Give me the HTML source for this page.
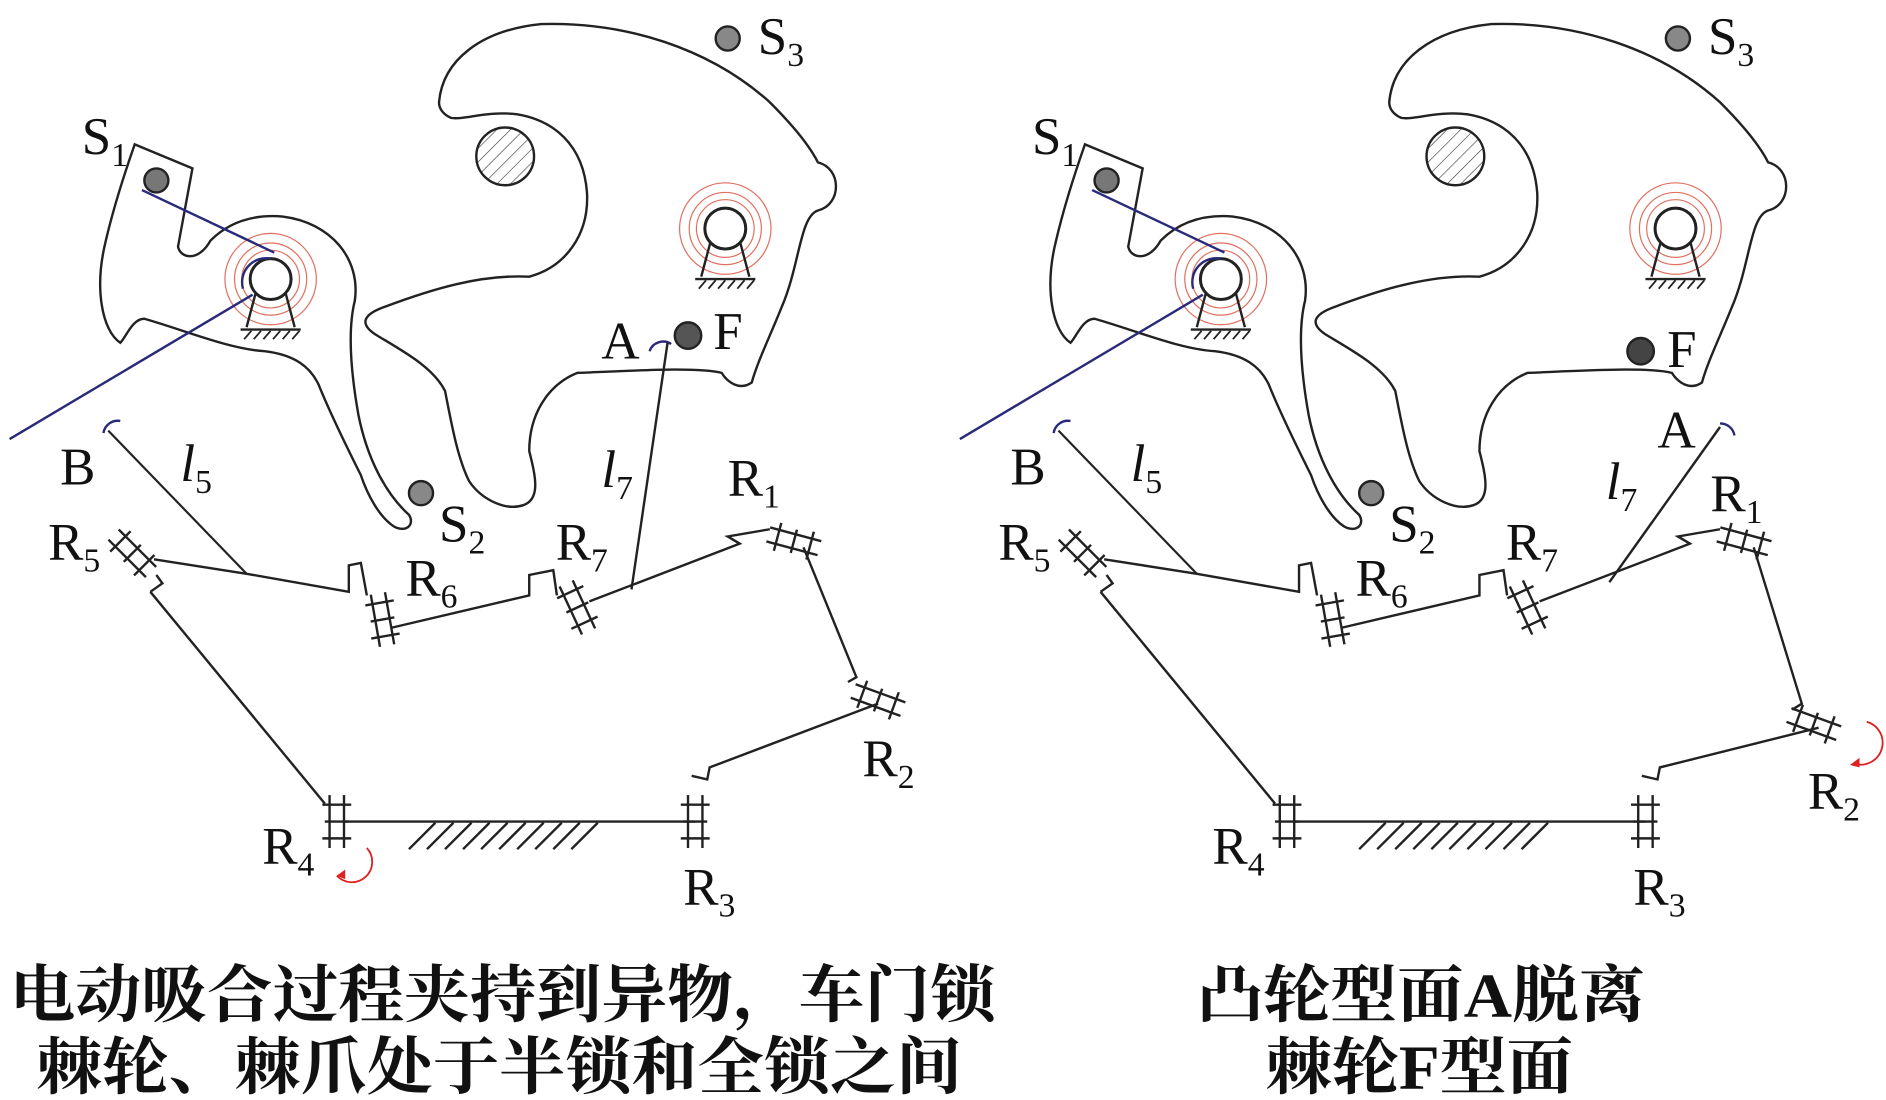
<!DOCTYPE html>
<html><head><meta charset="utf-8"><style>
html,body{margin:0;padding:0;background:#fff;width:1886px;height:1100px;overflow:hidden}
svg{display:block}
text{font-family:"Liberation Serif","Noto Serif CJK SC",serif;fill:#111}
.cn{font-family:"Liberation Serif","Noto Serif CJK SC","Noto Sans CJK SC",serif;font-weight:bold;font-size:52px}
</style></head><body>
<svg width="1886" height="1100" viewBox="0 0 1568 914.5" preserveAspectRatio="none" xmlns="http://www.w3.org/2000/svg">
<defs>
<pattern id="h" width="8" height="8" patternUnits="userSpaceOnUse" patternTransform="rotate(45)"><line x1="0" y1="0" x2="0" y2="8" stroke="#333" stroke-width="1"/></pattern>
<g id="base" fill="none" stroke="#222" stroke-width="2">
 <path d="M100,285 C85,275 78,240 88,200 C95,170 105,140 112,120 L160,140 L148,205 C150,215 165,218 175,200 C190,185 210,178 235,180 C275,185 300,215 295,250 C290,270 290,300 298,345 C305,380 320,410 340,428 C345,436 338,443 328,438 C315,430 305,410 300,395 C290,375 275,345 265,320 C258,305 245,295 220,292 C190,290 155,275 120,265 C110,265 105,280 100,285 Z"/>
 <path d="M365,85 C368,50 400,25 450,20 C520,18 590,40 640,85 C665,110 675,125 680,135 C700,140 700,170 680,175 C665,180 665,220 650,255 C640,280 630,300 625,318 C615,325 605,318 600,310 C580,305 530,308 480,310 C455,320 440,345 440,375 C445,395 450,415 435,420 C420,425 400,415 390,400 C380,380 375,350 370,325 C360,305 335,292 312,278 C300,270 300,262 320,255 C360,240 400,228 440,230 C470,222 490,195 488,160 C485,120 460,100 430,95 C405,92 385,100 375,98 C368,95 365,90 365,85 Z"/>
 <circle cx="420" cy="130" r="24" fill="url(#h)"/>
 <polyline points="128,465 205,477 290,492 290,470 300,468 305,495"/>
 <polyline points="325,522 440,495 440,478 460,474 463,495"/>
 <polyline points="490,500 615,452 605,446 640,440"/>
 <line x1="285" y1="683" x2="578" y2="683"/>
 <line x1="270" y1="668" x2="125" y2="492"/>
 <polyline points="125,492 135,485 130,478"/>
 <line x1="90" y1="358" x2="205" y2="477" stroke-width="1.8"/>
</g>
<g id="hatch" stroke="#222" stroke-width="2">
 <line x1="340" y1="706" x2="362" y2="684"/><line x1="355" y1="706" x2="377" y2="684"/><line x1="370" y1="706" x2="392" y2="684"/><line x1="385" y1="706" x2="407" y2="684"/><line x1="400" y1="706" x2="422" y2="684"/><line x1="415" y1="706" x2="437" y2="684"/><line x1="430" y1="706" x2="452" y2="684"/><line x1="445" y1="706" x2="467" y2="684"/><line x1="460" y1="706" x2="482" y2="684"/><line x1="475" y1="706" x2="497" y2="684"/>
</g>
<g id="bear" stroke="#222" stroke-width="2" fill="none">
 <line x1="-6" y1="-22" x2="-6" y2="22"/><line x1="6" y1="-22" x2="6" y2="22"/><line x1="-12" y1="-14" x2="12" y2="-14"/><line x1="-12" y1="14" x2="12" y2="14"/><line x1="-10" y1="0" x2="10" y2="0"/>
</g>
<g id="piv">
 <circle r="38" fill="none" stroke="#e07060" stroke-width="1"/><circle r="30" fill="none" stroke="#e07060" stroke-width="1"/><circle r="24" fill="none" stroke="#e07060" stroke-width="1"/>
 <path d="M-12,10 L-20,40 M12,10 L20,40" stroke="#222" stroke-width="2" fill="none"/>
 <line x1="-25" y1="42" x2="25" y2="42" stroke="#222" stroke-width="2"/>
 <path d="M-22,50 L-16,43 M-14,50 L-8,43 M-6,50 L0,43 M2,50 L8,43 M10,50 L16,43 M18,50 L24,43" stroke="#222" stroke-width="1.5"/>
 <circle r="17" fill="#fff" stroke="#222" stroke-width="2.5"/>
</g>
<g id="all">
 <use href="#base"/><use href="#hatch"/>
 <use href="#bear" transform="translate(110,460) rotate(-45)"/>
 <use href="#bear" transform="translate(318,515) rotate(-10)"/>
 <use href="#bear" transform="translate(480,505) rotate(-25)"/>
 <use href="#bear" transform="translate(660,450) rotate(-75)"/>
 <use href="#bear" transform="translate(280,683)"/>
 <use href="#bear" transform="translate(578,683)"/>
 <use href="#piv" transform="translate(225,232)"/>
 <use href="#piv" transform="translate(603,190)"/>
 <line x1="118" y1="158" x2="228" y2="210" stroke="#2a2a7a" stroke-width="2"/>
 <line x1="8" y1="365" x2="210" y2="245" stroke="#2a2a7a" stroke-width="2"/>
 <path d="M202,240 A20,20 0 0 1 225,215" stroke="#2a2a7a" stroke-width="2" fill="none"/>
 <path d="M86,360 A12,12 0 0 1 100,350" stroke="#2a2a7a" stroke-width="2" fill="none"/>
 <circle cx="130" cy="150" r="10" fill="#777" stroke="#222" stroke-width="2"/>
 <circle cx="605" cy="32" r="10" fill="#888" stroke="#222" stroke-width="2"/>
 <circle cx="350" cy="410" r="10" fill="#888" stroke="#222" stroke-width="2"/>
 <text x="68" y="128" font-size="44">S<tspan font-size="28" dy="10">1</tspan></text>
 <text x="630" y="45" font-size="44">S<tspan font-size="28" dy="10">3</tspan></text>
 <text x="365" y="450" font-size="44">S<tspan font-size="28" dy="10">2</tspan></text>
 <text x="50" y="403" font-size="44">B</text>
 <text x="150" y="400" font-size="44" font-style="italic">l<tspan font-size="28" dy="10" font-style="normal">5</tspan></text>
 <text x="40" y="465" font-size="44">R<tspan font-size="28" dy="10">5</tspan></text>
 <text x="337" y="495" font-size="44">R<tspan font-size="28" dy="10">6</tspan></text>
 <text x="462" y="465" font-size="44">R<tspan font-size="28" dy="10">7</tspan></text>
 <text x="218" y="718" font-size="44">R<tspan font-size="28" dy="10">4</tspan></text>
 <text x="568" y="752" font-size="44">R<tspan font-size="28" dy="10">3</tspan></text>
</g>
</defs>

<!-- Left -->
<use href="#all"/>
<g fill="none" stroke="#222" stroke-width="2">
 <polyline points="668,455 712,563 705,567"/>
 <polyline points="730,585 590,638 588,648 575,645"/>
</g>
<use href="#bear" transform="translate(730,582) rotate(-70)"/>
<text x="605" y="412" font-size="44">R<tspan font-size="28" dy="10">1</tspan></text>
<text x="717" y="645" font-size="44">R<tspan font-size="28" dy="10">2</tspan></text>
<circle cx="572" cy="279" r="11" fill="#555" stroke="#222" stroke-width="2"/>
<path d="M540,292 A12,12 0 0 1 558,286" stroke="#2a2a7a" stroke-width="2" fill="none"/>
<line x1="555" y1="285" x2="525" y2="490" stroke="#222" stroke-width="2"/>
<text x="500" y="298" font-size="44">A</text>
<text x="593" y="290" font-size="44">F</text>
<text x="500" y="405" font-size="44" font-style="italic">l<tspan font-size="28" dy="10" font-style="normal">7</tspan></text>
<path d="M305,705 A15,15 0 0 1 280,728" stroke="#d22" stroke-width="1.5" fill="none"/>
<path d="M280,728 l7,-5 l0,8 z" fill="#d22"/>

<!-- Right -->
<g transform="translate(790,0)">
<use href="#all"/>
<g fill="none" stroke="#222" stroke-width="2">
 <polyline points="668,455 708,585 700,590"/>
 <polyline points="722,605 590,638 588,648 575,645"/>
</g>
<use href="#bear" transform="translate(718,602) rotate(-70)"/>
<circle cx="574" cy="292" r="11" fill="#444" stroke="#222" stroke-width="2"/>
<text x="596" y="305" font-size="44">F</text>
<path d="M640,352 A12,12 0 0 1 652,362" stroke="#2a2a7a" stroke-width="2" fill="none"/>
<line x1="640" y1="355" x2="548" y2="484" stroke="#222" stroke-width="2"/>
<text x="588" y="372" font-size="44">A</text>
<text x="545" y="415" font-size="44" font-style="italic">l<tspan font-size="28" dy="10" font-style="normal">7</tspan></text>
<text x="632" y="425" font-size="44">R<tspan font-size="28" dy="10">1</tspan></text>
<text x="713" y="672" font-size="44">R<tspan font-size="28" dy="10">2</tspan></text>
<path d="M762,600 A15,15 0 0 1 752,635" stroke="#d22" stroke-width="1.5" fill="none"/>
<path d="M748,636 l8,-6 l0,8 z" fill="#d22"/>
</g>

<text class="cn" x="8" y="845" textLength="820" lengthAdjust="spacingAndGlyphs">电动吸合过程夹持到异物，车门锁</text>
<text class="cn" x="30" y="905" textLength="770" lengthAdjust="spacingAndGlyphs">棘轮、棘爪处于半锁和全锁之间</text>
<text class="cn" x="995" y="845" textLength="373" lengthAdjust="spacingAndGlyphs">凸轮型面A脱离</text>
<text class="cn" x="1052" y="905" textLength="256" lengthAdjust="spacingAndGlyphs">棘轮F型面</text>
</svg>
</body></html>
